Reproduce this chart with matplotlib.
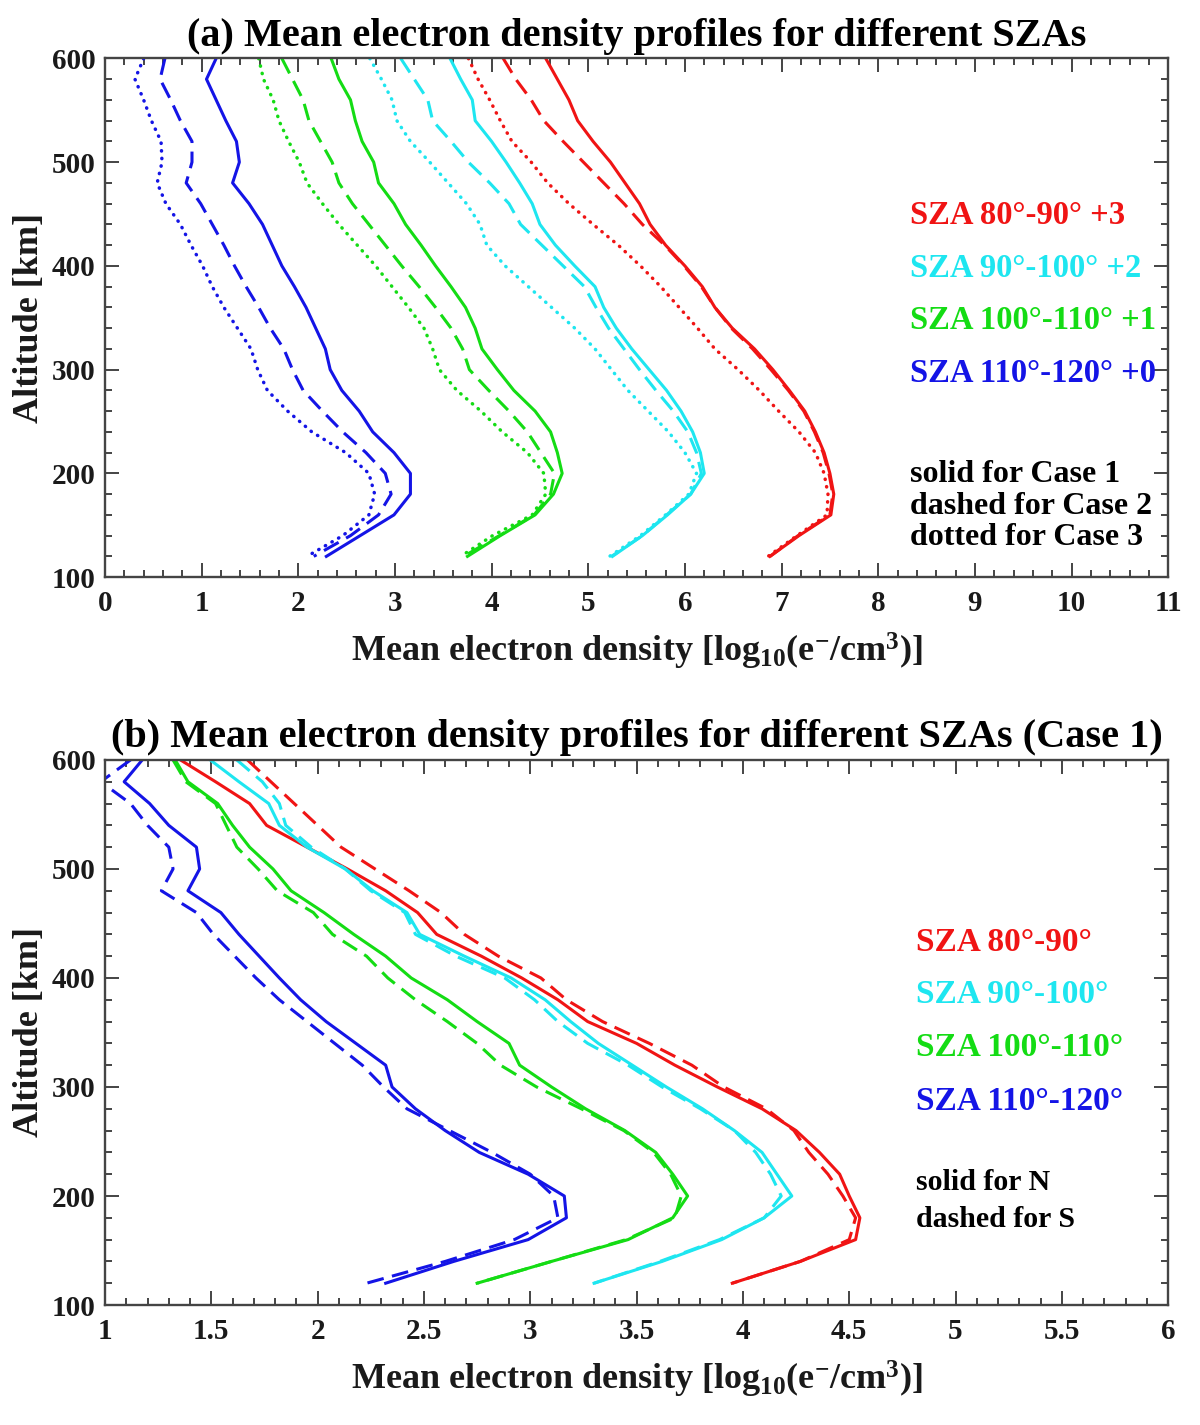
import matplotlib
matplotlib.use("Agg")
import matplotlib.pyplot as plt
from matplotlib.ticker import MultipleLocator, FormatStrFormatter

plt.rcParams['font.family'] = ['Liberation Serif', 'DejaVu Serif']
plt.rcParams['font.weight'] = 'bold'
plt.rcParams['mathtext.fontset'] = 'custom'
plt.rcParams['mathtext.rm'] = 'Liberation Serif:bold'
plt.rcParams['mathtext.it'] = 'Liberation Serif:bold'
plt.rcParams['mathtext.bf'] = 'Liberation Serif:bold'

# ---------------- data ----------------
altitude = [600, 580, 560, 540, 520, 500, 480, 460, 440, 420, 400, 380, 360,
            340, 320, 300, 280, 260, 240, 220, 200, 180, 160, 140, 120]

# Panel (a): plotted values (already shifted by the offsets in the legend)
a_red_case1 = [4.56, 4.68, 4.80, 4.89, 5.05, 5.23, 5.38, 5.53, 5.64, 5.80, 6.00, 6.18, 6.31,
               6.49, 6.72, 6.91, 7.08, 7.24, 7.35, 7.44, 7.50, 7.54, 7.51, 7.18, 6.88]
a_red_case2 = [4.12, 4.25, 4.41, 4.54, 4.74, 4.95, 5.16, 5.37, 5.56, 5.79, 5.99, 6.17, 6.31,
               6.48, 6.70, 6.89, 7.07, 7.23, 7.34, 7.43, 7.49, 7.53, 7.50, 7.17, 6.88]
a_red_case3 = [3.76, 3.86, 3.98, 4.09, 4.21, 4.41, 4.58, 4.80, 5.05, 5.31, 5.54, 5.75, 5.94,
               6.13, 6.31, 6.55, 6.77, 6.97, 7.18, 7.35, 7.44, 7.48, 7.47, 7.16, 6.86]

a_cyan_case1 = [3.57, 3.68, 3.80, 3.83, 4.00, 4.15, 4.29, 4.42, 4.50, 4.66, 4.86, 5.07, 5.16,
                5.29, 5.45, 5.63, 5.81, 5.96, 6.08, 6.16, 6.20, 6.06, 5.82, 5.56, 5.25]
a_cyan_case2 = [3.06, 3.20, 3.34, 3.39, 3.58, 3.76, 3.98, 4.18, 4.30, 4.52, 4.74, 4.96, 5.08,
                5.21, 5.37, 5.53, 5.70, 5.88, 6.03, 6.12, 6.17, 6.06, 5.81, 5.56, 5.24]
a_cyan_case3 = [2.74, 2.86, 2.97, 3.02, 3.16, 3.36, 3.55, 3.74, 3.88, 3.95, 4.14, 4.38, 4.62,
                4.86, 5.07, 5.24, 5.41, 5.62, 5.83, 6.00, 6.12, 6.04, 5.80, 5.54, 5.22]

a_green_case1 = [2.34, 2.42, 2.54, 2.59, 2.66, 2.78, 2.83, 2.99, 3.11, 3.27, 3.42, 3.58, 3.73,
                 3.83, 3.90, 4.06, 4.23, 4.45, 4.61, 4.68, 4.73, 4.64, 4.45, 4.09, 3.75]
a_green_case2 = [1.83, 1.94, 2.05, 2.11, 2.23, 2.35, 2.42, 2.56, 2.73, 2.90, 3.07, 3.25, 3.42,
                 3.58, 3.70, 3.77, 3.97, 4.18, 4.37, 4.51, 4.65, 4.61, 4.44, 4.08, 3.71]
a_green_case3 = [1.59, 1.64, 1.74, 1.80, 1.90, 2.01, 2.09, 2.25, 2.42, 2.61, 2.80, 2.97, 3.14,
                 3.30, 3.39, 3.46, 3.64, 3.89, 4.11, 4.37, 4.54, 4.56, 4.42, 4.01, 3.68]

a_blue_case1 = [1.15, 1.05, 1.15, 1.25, 1.36, 1.39, 1.32, 1.49, 1.63, 1.73, 1.83, 1.96, 2.08,
                2.18, 2.28, 2.33, 2.45, 2.63, 2.77, 2.99, 3.16, 3.16, 2.99, 2.64, 2.29]
a_blue_case2 = [0.62, 0.57, 0.68, 0.78, 0.90, 0.90, 0.84, 0.99, 1.11, 1.23, 1.34, 1.46, 1.59,
                1.71, 1.85, 1.94, 2.05, 2.25, 2.46, 2.70, 2.90, 2.96, 2.83, 2.54, 2.16]
a_blue_case3 = [0.40, 0.31, 0.40, 0.48, 0.58, 0.59, 0.54, 0.63, 0.78, 0.89, 1.01, 1.11, 1.23,
                1.37, 1.51, 1.58, 1.68, 1.89, 2.14, 2.49, 2.73, 2.79, 2.73, 2.46, 2.09]

# Panel (b): Case 1, north (solid) and south (dashed)
b_red_N = [1.355, 1.52, 1.68, 1.76, 1.95, 2.14, 2.32, 2.47, 2.56, 2.77, 2.96, 3.13, 3.27,
           3.50, 3.68, 3.88, 4.09, 4.25, 4.36, 4.455, 4.50, 4.55, 4.53, 4.27, 3.95]
b_red_S = [1.67, 1.78, 1.89, 2.00, 2.11, 2.27, 2.43, 2.58, 2.69, 2.85, 3.05, 3.17, 3.34,
           3.56, 3.76, 3.91, 4.11, 4.24, 4.31, 4.40, 4.47, 4.53, 4.50, 4.27, 3.95]
b_cyan_N = [1.495, 1.63, 1.77, 1.82, 1.95, 2.13, 2.26, 2.42, 2.48, 2.69, 2.91, 3.07, 3.19,
            3.32, 3.48, 3.64, 3.81, 3.96, 4.09, 4.16, 4.23, 4.10, 3.90, 3.62, 3.30]
b_cyan_S = [1.62, 1.74, 1.82, 1.85, 1.97, 2.13, 2.25, 2.41, 2.46, 2.65, 2.88, 3.02, 3.13,
            3.27, 3.46, 3.62, 3.80, 3.96, 4.06, 4.13, 4.18, 4.10, 3.89, 3.61, 3.30]
b_green_N = [1.33, 1.39, 1.53, 1.60, 1.68, 1.79, 1.875, 2.03, 2.17, 2.32, 2.44, 2.61, 2.75,
             2.90, 2.95, 3.10, 3.26, 3.445, 3.59, 3.67, 3.74, 3.67, 3.46, 3.10, 2.75]
b_green_S = [1.32, 1.38, 1.52, 1.57, 1.62, 1.72, 1.81, 1.98, 2.07, 2.23, 2.33, 2.46, 2.61,
             2.75, 2.86, 3.03, 3.24, 3.44, 3.58, 3.66, 3.71, 3.68, 3.45, 3.10, 2.75]
b_blue_N = [1.175, 1.09, 1.21, 1.30, 1.43, 1.445, 1.39, 1.545, 1.63, 1.725, 1.82, 1.92, 2.04,
            2.18, 2.32, 2.35, 2.46, 2.60, 2.76, 2.99, 3.16, 3.17, 2.99, 2.64, 2.32]
b_blue_S = [1.12, 0.98, 1.12, 1.20, 1.30, 1.32, 1.265, 1.43, 1.51, 1.61, 1.71, 1.82, 1.95,
            2.08, 2.21, 2.31, 2.42, 2.62, 2.82, 3.00, 3.11, 3.13, 2.925, 2.60, 2.23]

labels_a = ['SZA 80°-90° +3', 'SZA 90°-100° +2', 'SZA 100°-110° +1', 'SZA 110°-120° +0']
labels_b = ['SZA 80°-90°', 'SZA 90°-100°', 'SZA 100°-110°', 'SZA 110°-120°']
notes_a = ['solid for Case 1', 'dashed for Case 2', 'dotted for Case 3']
notes_b = ['solid for N', 'dashed for S']

# ---------------- style ----------------
RED, CYAN, GREEN, BLUE = '#f01414', '#1ee6f0', '#14dc14', '#1414e6'
colors = [RED, CYAN, GREEN, BLUE]
LW = 2.2
DASH = (0, (5.5, 2.8))
DOT = (0, (0.1, 2.1))
FRAME = '#444444'
TXT = '#1a1a1a'

fig = plt.figure(figsize=(12, 14.25), dpi=100)
ax1 = fig.add_axes([0.0875, 0.595, 0.886, 0.364])
ax2 = fig.add_axes([0.0875, 0.0842, 0.886, 0.3825])

series_a = [(a_red_case1, a_red_case2, a_red_case3),
            (a_cyan_case1, a_cyan_case2, a_cyan_case3),
            (a_green_case1, a_green_case2, a_green_case3),
            (a_blue_case1, a_blue_case2, a_blue_case3)]
for col, (c1, c2, c3) in zip(colors, series_a):
    ax1.plot(c1, altitude, color=col, lw=LW, ls='-')
    ax1.plot(c2, altitude, color=col, lw=LW, ls=DASH)
    ax1.plot(c3, altitude, color=col, lw=LW + 0.3, ls=DOT, dash_capstyle='round')

series_b = [(b_red_N, b_red_S), (b_cyan_N, b_cyan_S),
            (b_green_N, b_green_S), (b_blue_N, b_blue_S)]
for col, (n, s) in zip(colors, series_b):
    ax2.plot(n, altitude, color=col, lw=LW, ls='-')
    ax2.plot(s, altitude, color=col, lw=LW, ls=DASH)

xlabel = r'Mean electron density [log$_{10}$(e$^{-}$/cm$^{3}$)]'
for ax in (ax1, ax2):
    ax.set_ylim(100, 600)
    ax.yaxis.set_major_locator(MultipleLocator(100))
    ax.yaxis.set_minor_locator(MultipleLocator(20))
    ax.tick_params(which='both', direction='in', top=True, right=True,
                   color=FRAME, width=1.4, labelsize=21, labelcolor=TXT)
    ax.tick_params(axis='x', pad=9)
    ax.tick_params(axis='y', pad=7)
    ax.tick_params(which='major', length=10)
    ax.tick_params(which='minor', length=5)
    for sp in ax.spines.values():
        sp.set_color(FRAME)
        sp.set_linewidth(1.7)
    ax.set_ylabel('Altitude [km]', fontsize=26, fontweight='bold', color=TXT, labelpad=4)
    ax.set_xlabel(xlabel, fontsize=26, fontweight='bold', color=TXT, labelpad=10)

ax1.set_xlim(0, 11)
ax1.xaxis.set_major_locator(MultipleLocator(1))
ax1.xaxis.set_minor_locator(MultipleLocator(0.2))
ax2.set_xlim(1, 6)
ax2.xaxis.set_major_locator(MultipleLocator(0.5))
ax2.xaxis.set_minor_locator(MultipleLocator(0.1))
ax2.xaxis.set_major_formatter(FormatStrFormatter('%g'))

ax1.set_title('(a) Mean electron density profiles for different SZAs',
              fontsize=29, fontweight='bold', pad=9, color='black')
ax2.set_title('(b) Mean electron density profiles for different SZAs (Case 1)',
              fontsize=29, fontweight='bold', pad=9, color='black')

for lab, col, yf in zip(labels_a, colors, [0.697, 0.595, 0.495, 0.393]):
    ax1.text(0.757, yf, lab, color=col, fontsize=23.5, fontweight='bold',
             transform=ax1.transAxes, va='center', ha='left')
for lab, yf in zip(notes_a, [0.197, 0.137, 0.077]):
    ax1.text(0.757, yf, lab, color='black', fontsize=23, fontweight='bold',
             transform=ax1.transAxes, va='center', ha='left')

for lab, col, yf in zip(labels_b, colors, [0.666, 0.569, 0.472, 0.374]):
    ax2.text(0.763, yf, lab, color=col, fontsize=24, fontweight='bold',
             transform=ax2.transAxes, va='center', ha='left')
for lab, yf in zip(notes_b, [0.224, 0.156]):
    ax2.text(0.763, yf, lab, color='black', fontsize=21.5, fontweight='bold',
             transform=ax2.transAxes, va='center', ha='left')

fig.savefig('out.png', dpi=100)
